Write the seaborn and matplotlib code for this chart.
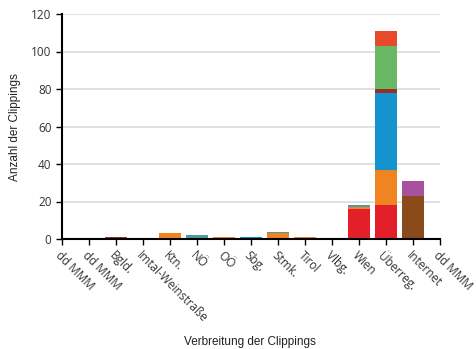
import matplotlib
matplotlib.use('Agg')
import matplotlib.pyplot as plt
import numpy as np
import pandas as pd
import seaborn as sns

# x categories (positions 0..14 on the axis)
labels = ['dd MMM', 'dd MMM', 'Bgld.', 'Imtal-Weinstraße', 'Ktn.', 'NÖ', 'OÖ',
          'Sbg.', 'Stmk.', 'Tirol', 'Vlbg.', 'Wien', 'Überreg.', 'Internet', 'dd MMM']

# stacked series, bottom to top, one value per label
s_red     = [0, 0, 0, 0, 0, 0, 0, 0, 0, 0, 0, 16, 18, 0, 0]
s_orange  = [0, 0, 0, 0, 3, 0, 1, 0, 3, 1, 0, 1, 19, 0, 0]
s_blue    = [0, 0, 0, 0, 0, 0, 0, 1, 0, 0, 0, 0, 41, 0, 0]
s_darkred = [0, 0, 1, 0, 0, 0, 0, 0, 0, 0, 0, 0, 2, 0, 0]
s_green   = [0, 0, 0, 0, 0, 0, 0, 0, 0, 0, 0, 0, 23, 0, 0]
s_redor   = [0, 0, 0, 0, 0, 0, 0, 0, 0, 0, 0, 0, 8, 0, 0]
s_brown   = [0, 0, 0, 0, 0, 0, 0, 0, 0, 0, 0, 0, 0, 23, 0]
s_purple  = [0, 0, 0, 0, 0, 0, 0, 0, 0, 0, 0, 0, 0, 8, 0]
s_teal    = [0, 0, 0, 0, 0, 2, 0, 0, 1, 0, 0, 1, 0, 0, 0]

series = [s_red, s_orange, s_blue, s_darkred, s_green, s_redor, s_brown, s_purple, s_teal]
colors = ['#e3202a', '#ef8420', '#1593cf', '#9a2d28', '#6ab865', '#e8492a',
          '#8a4a1a', '#a8529e', '#4d9aa5']

keys = ['c%d' % i for i in range(len(labels))]

sns.set_style('white')
plt.rcParams['font.family'] = ['Open Sans', 'DejaVu Sans']

fig = plt.figure(figsize=(4.76, 3.49), dpi=100)
ax = fig.add_axes([62 / 476, 1 - 239 / 349, 378 / 476, 225 / 349])

cum = np.cumsum(np.array(series), axis=0)
# draw the tallest cumulative layer first, smaller ones on top
for k in range(len(series) - 1, -1, -1):
    df = pd.DataFrame({'cat': keys, 'val': cum[k]})
    sns.barplot(data=df, x='cat', y='val', order=keys, color=colors[k],
                saturation=1, width=0.8, linewidth=0, errorbar=None, ax=ax)

ax.set_xlim(0, 14)
ax.set_ylim(0, 120)
ax.set_yticks(range(0, 121, 20))
ax.yaxis.grid(True, color='#dedede', linewidth=1.3)
ax.set_axisbelow(True)
ax.set_xticks(range(len(labels)))
ax.set_xticklabels(labels, rotation=-45, ha='left', rotation_mode='anchor',
                   fontsize=8.5, color='#333333')
ax.tick_params(axis='y', labelsize=8.5, labelcolor='#333333', length=4, width=1,
               color='black', left=True)
ax.tick_params(axis='x', length=4, width=1, color='black', bottom=True, pad=3)
for s in ['top', 'right']:
    ax.spines[s].set_visible(False)
for s in ['left', 'bottom']:
    ax.spines[s].set_color('black')
    ax.spines[s].set_linewidth(1.5)

ax.set_ylabel('')
ax.set_xlabel('')
fig.text(15 / 476, 1 - 127 / 349, 'Anzahl der Clippings', rotation=90, ha='center',
         va='center', fontsize=8.5, family='Liberation Sans', color='#222222')
fig.text(250 / 476, 1 - 342 / 349, 'Verbreitung der Clippings', ha='center',
         va='center', fontsize=8.5, family='Liberation Sans', color='#222222')

fig.savefig('out.png', dpi=100)
